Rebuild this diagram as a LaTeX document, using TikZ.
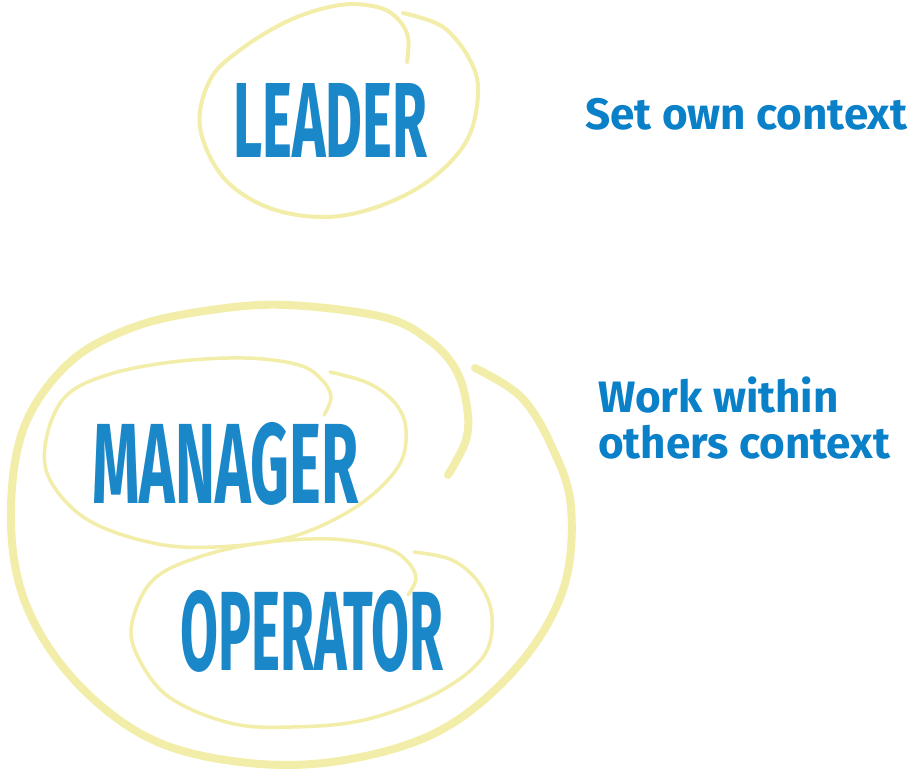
\documentclass[tikz,border=0pt]{standalone}
\usepackage{fontspec}
\setmainfont{Fira Sans}
\definecolor{loopyellow}{HTML}{F2EDA8}
\definecolor{inkblue}{HTML}{1A87C9}
\definecolor{textblue}{HTML}{0A80C8}
\newcommand{\handword}[3]{\resizebox{#1}{#2}{\bfseries #3}}
\tikzset{
  loop line/.style={draw=loopyellow, line cap=round, line join=round},
  hand/.style={text=inkblue, inner sep=0pt, anchor=north west},
  note/.style={text=textblue, font=\bfseries\fontsize{44}{46}\selectfont,
    inner sep=0pt, align=left, anchor=base west}
}
\begin{document}
\begin{tikzpicture}[x=1pt, y=-1pt]
  \useasboundingbox (0,0) rectangle (915,775);
  % loops
  \draw[loop line, line width=4pt] plot[smooth, tension=0.6] coordinates {
    (407,62) (408,37) (397,18) (377,7) (340,5) (290,20) (240,50) (210,80)
    (200,127) (223,177) (267,207) (323,217) (377,207) (430,180) (467,140)
    (478,93) (470,60) (443,27) (403,13)};
  \draw[loop line, line width=8pt] plot[smooth, tension=0.6] coordinates {
    (448,475) (466,440) (467,407) (456,370) (429,340) (383,317) (287,305)
    (211,310) (134,327) (69,363) (23,430) (11,523) (27,607) (77,683)
    (153,740) (249,763) (345,760) (441,730) (517,667) (563,590) (571,507)
    (552,447) (521,397) (475,368)};
  \draw[loop line, line width=3.5pt] plot[smooth, tension=0.6] coordinates {
    (324,415) (331,397) (322,380) (299,365) (245,358) (172,362) (107,375)
    (65,397) (46,440) (50,480) (88,520) (153,543) (215,547) (291,537)
    (356,507) (398,467) (406,430) (395,403) (368,383) (330,372)};
  \draw[loop line, line width=3.5pt] plot[smooth, tension=0.6] coordinates {
    (408,595) (416,578) (406,560) (383,547) (330,539) (261,543) (199,557)
    (153,580) (132,623) (138,657) (169,697) (230,723) (291,727) (364,720)
    (437,693) (483,657) (492,617) (479,583) (452,560) (414,552)};
  % words
  \node[hand] (leader) at (233,83) {\handword{194pt}{74pt}{LEADER}};
  \node[hand] (manager) at (92,422) {\handword{266pt}{81pt}{MANAGER}};
  \node[hand] (operator) at (180,590) {\handword{263pt}{80pt}{OPERATOR}};
  \node[note] (own) at (585,130) {Set own context};
  \node[note] (within) at (598,458) {Work within\\others context};
\end{tikzpicture}
\end{document}
